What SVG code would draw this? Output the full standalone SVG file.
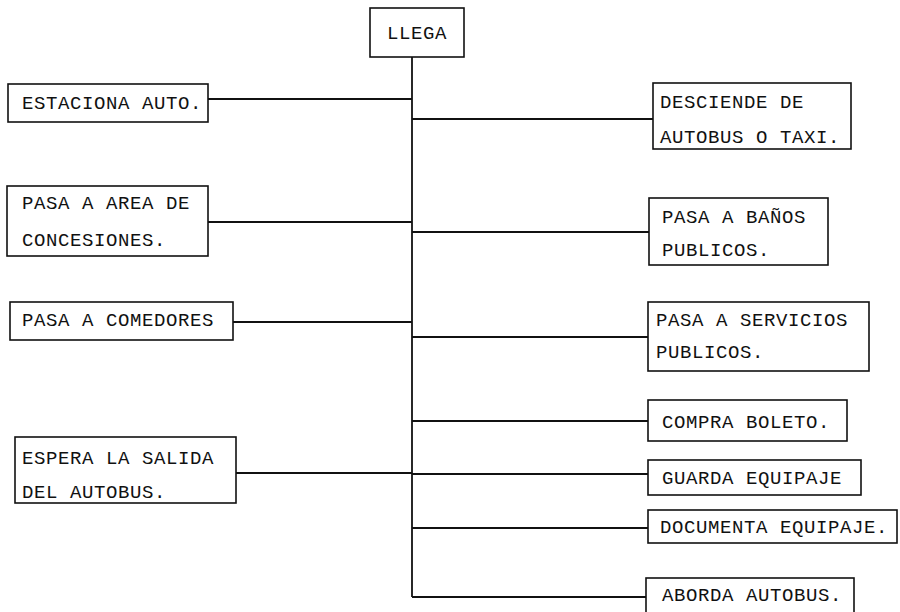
<svg xmlns="http://www.w3.org/2000/svg" width="900" height="612" viewBox="0 0 900 612">
<style>
.box{fill:#fff;stroke:#111;stroke-width:1.6}
.ln{stroke:#111;stroke-width:1.8;fill:none}
text{font-family:"Liberation Mono","Courier New",monospace;font-size:19px;letter-spacing:0.6px;fill:#111}
</style>
<rect width="900" height="612" fill="#fff"/>
<g id="connectors">
<line class="ln" x1="412" y1="57" x2="412" y2="597"/>
<line class="ln" x1="208" y1="99" x2="412" y2="99"/>
<line class="ln" x1="208" y1="222" x2="412" y2="222"/>
<line class="ln" x1="233" y1="322" x2="412" y2="322"/>
<line class="ln" x1="236" y1="473" x2="412" y2="473"/>
<line class="ln" x1="412" y1="119" x2="653" y2="119"/>
<line class="ln" x1="412" y1="232" x2="649" y2="232"/>
<line class="ln" x1="412" y1="337" x2="648" y2="337"/>
<line class="ln" x1="412" y1="421" x2="648" y2="421"/>
<line class="ln" x1="412" y1="474" x2="648" y2="474"/>
<line class="ln" x1="412" y1="528" x2="648" y2="528"/>
<line class="ln" x1="412" y1="597" x2="646" y2="597"/>
</g>
<g id="llega"><rect class="box" x="370" y="8" width="94" height="49"/><text x="387" y="39">LLEGA</text></g>
<g id="estaciona"><rect class="box" x="8" y="84" width="200" height="38"/><text x="22" y="109">ESTACIONA AUTO.</text></g>
<g id="concesiones"><rect class="box" x="7" y="186" width="201" height="70"/><text x="22" y="209">PASA A AREA DE</text><text x="22" y="246">CONCESIONES.</text></g>
<g id="comedores"><rect class="box" x="10" y="302" width="223" height="38"/><text x="22" y="326">PASA A COMEDORES</text></g>
<g id="espera"><rect class="box" x="15" y="437" width="221" height="66"/><text x="22" y="464">ESPERA LA SALIDA</text><text x="22" y="498">DEL AUTOBUS.</text></g>
<g id="desciende"><rect class="box" x="653" y="83" width="198" height="66"/><text x="660" y="108">DESCIENDE DE</text><text x="660" y="143">AUTOBUS O TAXI.</text></g>
<g id="banos"><rect class="box" x="649" y="198" width="179" height="67"/><text x="662" y="223">PASA A BAÑOS</text><text x="662" y="256">PUBLICOS.</text></g>
<g id="servicios"><rect class="box" x="648" y="302" width="221" height="69"/><text x="656" y="326">PASA A SERVICIOS</text><text x="656" y="358">PUBLICOS.</text></g>
<g id="compra"><rect class="box" x="648" y="400" width="199" height="41"/><text x="662" y="428">COMPRA BOLETO.</text></g>
<g id="guarda"><rect class="box" x="648" y="460" width="213" height="35"/><text x="662" y="484">GUARDA EQUIPAJE</text></g>
<g id="documenta"><rect class="box" x="648" y="510" width="249" height="33"/><text x="660" y="533">DOCUMENTA EQUIPAJE.</text></g>
<g id="aborda"><rect class="box" x="646" y="578" width="208" height="40"/><text x="662" y="601">ABORDA AUTOBUS.</text></g>
</svg>
